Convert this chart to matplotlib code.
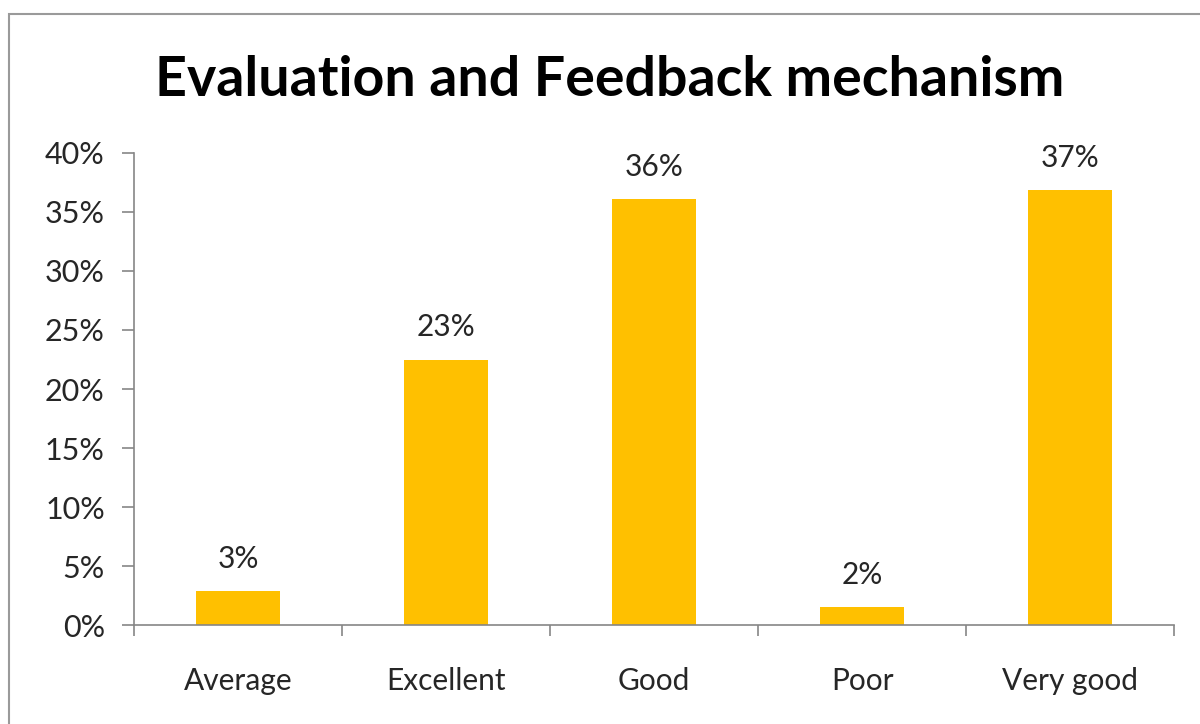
"""Evaluation and Feedback mechanism - bar chart"""
import matplotlib
matplotlib.use("Agg")
import matplotlib.pyplot as plt
from matplotlib.patches import Rectangle
from matplotlib.ticker import FuncFormatter, FixedLocator
import numpy as np

categories = ["Average", "Excellent", "Good", "Poor", "Very good"]
values = [2.9, 22.5, 36.1, 1.5, 36.9]  # percent
labels = ["3%", "23%", "36%", "2%", "37%"]
yticks = [0, 5, 10, 15, 20, 25, 30, 35, 40]

plt.rcParams['font.family'] = ['Lato', 'DejaVu Sans']
text_color = '#262626'
axis_color = '#868686'

fig = plt.figure(figsize=(12, 7.24), dpi=100)
ax = fig.add_axes([0.1117, 0.1367, 0.8667, 0.652])

x = np.arange(len(categories))
ax.bar(x, values, width=0.4, color='#FFC000')

for xi, v, lab in zip(x, values, labels):
    ax.annotate(lab, (xi, v), xytext=(0, 13), textcoords='offset points',
                ha='center', va='bottom', fontsize=21.5, color=text_color)

ax.set_xlim(-0.5, len(categories) - 0.5)
ax.set_ylim(0, 40)
ax.set_yticks(yticks)
ax.yaxis.set_major_formatter(FuncFormatter(lambda v, p: f"{v:.0f}%"))
ax.set_xticks(x)
ax.set_xticklabels(categories)
ax.xaxis.set_minor_locator(FixedLocator(np.arange(len(categories) + 1) - 0.5))

ax.tick_params(axis='y', which='major', length=9, width=1.2, color=axis_color,
               labelsize=22, labelcolor=text_color, pad=12)
ax.tick_params(axis='x', which='major', length=0, labelsize=21.5,
               labelcolor=text_color, pad=30)
ax.tick_params(axis='x', which='minor', length=8, width=1.2, color=axis_color)

for side in ['top', 'right']:
    ax.spines[side].set_visible(False)
for side in ['left', 'bottom']:
    ax.spines[side].set_color(axis_color)
    ax.spines[side].set_linewidth(1.2)

fig.text(0.508, 0.89, "Evaluation and Feedback mechanism", ha='center', va='center',
         fontsize=40, fontweight='bold', color='black')

# outer chart border (cropped at right and bottom)
fig.add_artist(Rectangle((9 / 1200, -0.05), 1.1, 1.05 - 14 / 724,
                         transform=fig.transFigure, fill=False,
                         edgecolor='#9a9a9a', linewidth=1.5))

fig.savefig("out.png", dpi=100)
